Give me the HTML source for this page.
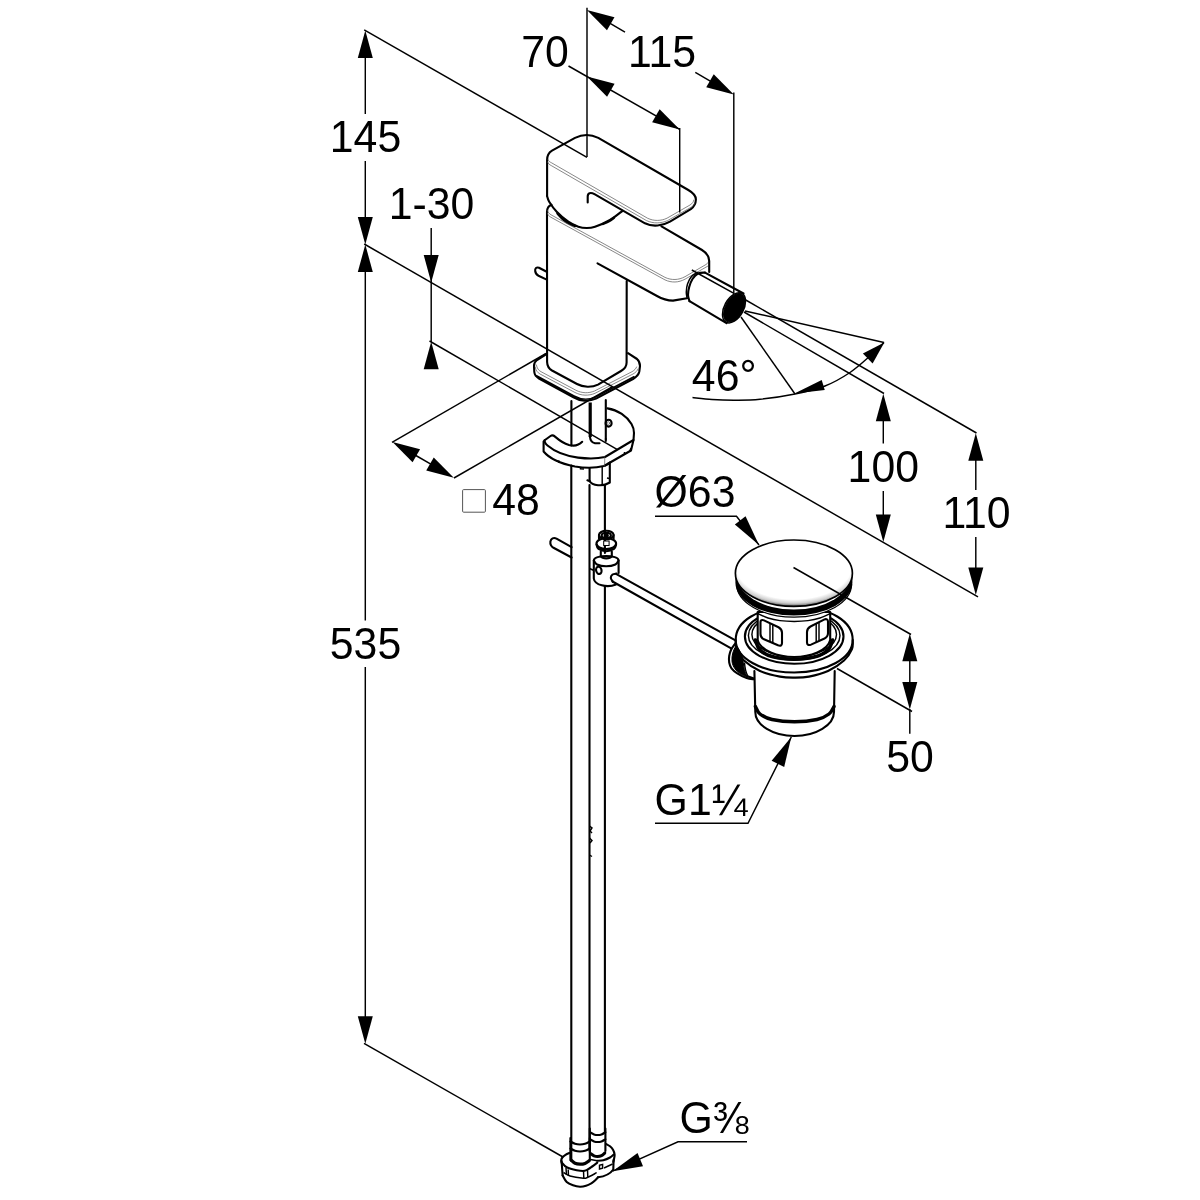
<!DOCTYPE html>
<html lang="en">
<head>
<meta charset="utf-8">
<title>Bidet mixer dimension drawing</title>
<style>
html,body{margin:0;padding:0;background:#fff;}
body{width:1200px;height:1200px;overflow:hidden;}
svg{display:block;will-change:transform;}
text{font-family:"Liberation Sans",sans-serif;fill:#000;}
.n{stroke:#000;stroke-width:1.45;fill:none;stroke-linecap:butt;}
.k{stroke:#000;stroke-width:2.1;fill:none;stroke-linecap:round;stroke-linejoin:round;}
.kw{stroke:#000;stroke-width:2.1;fill:#fff;stroke-linecap:round;stroke-linejoin:round;}
.w{stroke:none;fill:#fff;}
.g{stroke:#555;stroke-width:0.7;fill:none;stroke-linecap:round;}
.a{fill:#000;stroke:none;}
.b{fill:#000;stroke:#000;stroke-width:1;}
</style>
</head>
<body>
<svg width="1200" height="1200" viewBox="0 0 1200 1200">
<rect x="0" y="0" width="1200" height="1200" fill="#fff"/>
<g id="mixer">
<path class="k" d="M547.1,196 L547.1,160 C547.1,155.5 548.8,152.5 552,150.6 L575,137.9 C582.5,134.2 591,134.3 598.3,137.9 L688.3,190 C693.5,193 696,196 695.9,199.5 C695.8,203.5 694,206.8 690.8,209.2 L670,221.7 C663,225.8 652.5,227.2 645,223.3 L594.5,194.2 C590.5,192 587.7,193 587.7,196.5 L587.7,202.5"/>
<path class="k" d="M547.10,196.00 C547.45,196.95 547.60,199.08 549.20,201.70 C550.80,204.32 553.52,208.37 556.70,211.70 C559.88,215.03 564.70,219.20 568.30,221.70 C571.90,224.20 575.23,225.65 578.30,226.70 C581.37,227.75 583.92,228.00 586.70,228.00 C589.48,228.00 591.12,228.03 595.00,226.70 C598.88,225.37 605.42,222.65 610.00,220.00 C614.58,217.35 620.42,212.33 622.50,210.80"/>
<path class="k" d="M557.50,213.50 C558.42,214.47 561.08,217.63 563.00,219.30 C564.92,220.97 567.00,222.38 569.00,223.50 C571.00,224.62 574.00,225.58 575.00,226.00" style="stroke-width:2.5"/>
<path class="k" d="M603.00,224.00 C604.00,223.55 607.17,222.33 609.00,221.30 C610.83,220.27 613.17,218.38 614.00,217.80" style="stroke-width:2.4"/>
<path class="g" d="M548,159.5 C548.5,161 549.8,162 551.7,162.9 L647.5,218.2 C654,221.3 661,221 667,218.2 L690,205 C692.5,203.4 693.6,201.8 693.8,200"/>
<path class="g" d="M547.6,162 C548.2,163.7 549.5,164.7 551.3,165.6 L646.5,220.6 C653.5,223.8 661,223.5 667.5,220.6 L691,207.3 C693.3,205.8 694.4,204.5 694.8,203"/>
<path class="k" d="M551.5,204.8 C548.5,206 547,208.5 547,212 L547.1,362 C547.2,366 548.5,368.5 552,370.5 L577,384 C583,387.4 592,387.6 598,384.6 L621,371 C625,368.8 626.6,366.5 626.6,362.5 L626.7,281"/>
<path class="g" d="M547.6,210.5 C548,212.5 549,213.6 551,214.8 L665,277.4 C671.5,280.4 678.5,280.2 685,276.7 L706,264.5 C708,263.3 709,261.5 709.2,259.5"/>
<path class="g" d="M547.3,213 C547.8,215 549,216.2 551,217.3 L665,279.9 C671.5,282.9 678.5,282.7 685,279.2 L708,266"/>
<path class="k" d="M661.5,226.3 L702,250 C707,253 709.2,256 709.2,261 L709.2,272"/>
<path class="k" d="M597.5,263.3 L657,296 C662.5,299.2 667.5,300.6 673,300.6 L687,298.3"/>
<path class="k" d="M705,272.6 L743.5,293.5"/>
<path class="k" d="M689.5,301.2 L726.5,323.2"/>
<path class="n" d="M691.8,270 L733.5,293.2"/>
<path class="k" d="M705.00,272.60 C703.83,272.75 700.08,272.43 698.00,273.50 C695.92,274.57 693.97,276.75 692.50,279.00 C691.03,281.25 689.95,284.33 689.20,287.00 C688.45,289.67 687.95,292.63 688.00,295.00 C688.05,297.37 689.25,300.17 689.50,301.20"/>
<path class="k" d="M697.50,272.50 C696.50,273.17 693.17,274.58 691.50,276.50 C689.83,278.42 688.37,281.42 687.50,284.00 C686.63,286.58 686.38,289.75 686.30,292.00 C686.22,294.25 686.88,296.58 687.00,297.50" style="stroke-width:1.5"/>
<ellipse class="n" cx="734.00" cy="307.80" rx="16.40" ry="9.60" transform="rotate(-61.00 734.00 307.80)"/>
<ellipse class="b" cx="734.30" cy="307.80" rx="15.40" ry="8.90" transform="rotate(-61.00 734.30 307.80)"/>
<path class="k" d="M546.7,271.8 L539,267.8 C536.5,266.8 534.8,268.5 535.2,271 C535.5,273.5 536.5,274.8 538.5,275.8 L546.7,279.6"/>
<path class="k" d="M546.5,354 L537,360 C534.8,361.6 534,363.5 534,366 L534.3,372 C534.6,375 536,376.8 539,378.5 L573,397 C580,401.3 589,401.8 596,398.6 L633,379 C637,376.6 638.8,374.5 639.3,371.5 L640,366 C640,363 639,360.8 637,359 L628,353.2"/>
<path class="k" d="M536.5,375.8 L574,396 C580.5,399.6 589,400 595.5,397 L634,376.8" style="stroke-width:1.6"/>
<path class="g" d="M535.2,367 C535.8,370.5 537.5,372.6 540,374 L575,392.5 C581.5,395.8 588.5,396 595,393.3 L633,374 C635.8,372.4 637.4,370.8 638,369"/>
<path class="g" d="M536.4,365 C537,368.3 538.5,370.3 541,371.7 L576,390.3 C582,393.3 588.5,393.5 594.5,391 L632,371.7 C634.6,370.2 636,368.6 636.6,367"/>
</g>
<g id="tubes">
<line class="k" x1="571.40" y1="401.00" x2="571.40" y2="445.50"/>
<line x1="590.2" y1="402.5" x2="590.2" y2="437" stroke="#000" stroke-width="3.2"/>
<line class="k" x1="605.80" y1="400.00" x2="605.80" y2="439.00"/>
<path class="k" d="M590,437 C590.3,440.5 592,442.6 595,443.2 L599.5,443.2"/>
<path class="k" d="M605.8,439 L605.8,441"/>
<ellipse class="k" cx="608.60" cy="423.20" rx="3.00" ry="3.40"/>
<ellipse class="g" cx="608.30" cy="423.20" rx="1.20" ry="1.60"/>
<path class="k" d="M607.5,408.4 C618,410 627,416.5 631.5,424 C633.5,427.5 634.2,430 634,433 L633.5,440 L605,457 C598,458.6 588,458.8 578,457.6 C566,456 554,451 547.5,445.5 C545,443.3 544.2,441.5 545,440 L550.5,436 C552,435 553.5,435.3 555,436.6 C559.5,440.5 564,443.5 569,445 C574,446.3 579,445.2 582.2,441.8"/>
<path class="k" d="M543.6,441.5 L543.6,451.5 C549,458 560,463.5 575,466.5 C585,468.2 596,468 604,466 L631,450.5 L633.5,440"/>
<path class="n" d="M543.6,441.5 C543.8,440 544.5,439.5 545.5,439.5"/>
<path class="g" d="M604.8,457.2 L604.6,466"/>
<path class="n" d="M556.5,461 L559,461.2 L559,463 M580.5,467 L580.5,468.8 L584,469 M605,466 L608.5,464 L608.5,462.5 M622,455.5 L624.5,454 L624.5,452 M629.5,451.5 L631,448"/>
<path class="k" d="M589.6,468.5 L589.6,481 C592,485.8 603,487 609.8,482.5 L609.8,462.5"/>
<path class="n" d="M602.2,467 L602.2,485"/>
<path class="k" d="M587.4,480.3 L590,481.3"/>
<path class="n" d="M607,478 L609.5,478.5"/>
<line class="k" x1="571.30" y1="465.50" x2="571.30" y2="1161.00"/>
<line class="k" x1="589.50" y1="485.00" x2="589.50" y2="1150.00"/>
<line class="k" x1="604.90" y1="485.00" x2="604.90" y2="553.00"/>
<line class="k" x1="604.90" y1="586.00" x2="604.90" y2="1133.00"/>
<path class="n" d="M589.5,826 L592,828 L590,831 L592,833 M589.5,838 L592,840.5 L590,843 M589.5,855 L592,856.5"/>
<path class="k" d="M571.6,547.2 L556.5,538.6 C553.5,537.2 551,538.5 550.4,541.5 C550,544.5 551,546.3 553.5,547.8 L571.6,557.5"/>
</g>
<g id="clamp">
<ellipse class="k" cx="606.30" cy="535.00" rx="7.30" ry="4.20"/>
<ellipse class="k" cx="606.30" cy="535.40" rx="4.60" ry="2.50"/>
<ellipse class="k" cx="606.30" cy="535.40" rx="1.60" ry="0.90"/>
<path class="k" d="M599,535 L599,538.5 M613.6,535 L613.6,538.5"/>
<ellipse class="k" cx="606.30" cy="543.60" rx="9.80" ry="5.40"/>
<path class="k" d="M596.50,544.50 C596.83,545.25 596.87,547.88 598.50,549.00 C600.13,550.12 603.72,551.20 606.30,551.20 C608.88,551.20 612.37,550.12 614.00,549.00 C615.63,547.88 615.75,545.25 616.10,544.50"/>
<path class="n" d="M597.50,546.50 C598.08,546.92 599.53,548.45 601.00,549.00 C602.47,549.55 604.53,549.80 606.30,549.80 C608.07,549.80 610.13,549.55 611.60,549.00 C613.07,548.45 614.52,546.92 615.10,546.50"/>
<rect x="603.7" y="541" width="5.4" height="4.5" fill="#fff" stroke="#000" stroke-width="1"/>
<path class="k" d="M600.8,551.5 L600.8,556.5 C602.5,559 610,559 611.8,556.5 L611.8,551.5"/>
<path class="k" d="M593.8,560.5 C593.8,554.5 618.6,554.5 618.6,560.5 L618.6,573 M593.8,560.5 L593.8,578.5 C594.5,585 607,588.2 616,584.5"/>
<path class="k" d="M593.80,560.50 C594.33,561.17 594.93,563.53 597.00,564.50 C599.07,565.47 603.13,566.30 606.20,566.30 C609.27,566.30 613.33,565.47 615.40,564.50 C617.47,563.53 618.07,561.17 618.60,560.50"/>
<ellipse class="k" cx="598.80" cy="570.30" rx="2.70" ry="3.70" transform="rotate(-15.00 598.80 570.30)"/>
<path class="n" d="M589.5,568.5 L594,570.5"/>
<path class="k" d="M616,573.8 L735,640.2"/>
<path class="k" d="M612.5,581.5 L730.7,648.2"/>
<path class="k" d="M616.50,573.60 C615.83,573.75 613.45,573.77 612.50,574.50 C611.55,575.23 610.72,576.75 610.80,578.00 C610.88,579.25 612.63,581.33 613.00,582.00"/>
</g>
<defs><radialGradient id="capg" cx="0.5" cy="0.40" r="0.60" fx="0.5" fy="0.40"><stop offset="0" stop-color="#fff"/><stop offset="0.82" stop-color="#fff"/><stop offset="0.92" stop-color="#cfcfcf"/><stop offset="0.97" stop-color="#8a8a8a"/><stop offset="1" stop-color="#3a3a3a"/></radialGradient></defs>
<g id="drain">
<path class="kw" d="M735.7,640 C735.7,622 756,607 794.2,607 C832,607 852.7,622 852.7,640 C852.7,658 827,672.5 794.2,672.5 C761,672.5 735.7,658 735.7,640Z"/>
<path class="k" d="M735.70,640.00 C735.83,641.50 735.12,645.58 736.50,649.00 C737.88,652.42 740.08,656.83 744.00,660.50 C747.92,664.17 754.00,668.32 760.00,671.00 C766.00,673.68 774.30,675.50 780.00,676.60 C785.70,677.70 789.37,677.60 794.20,677.60 C799.03,677.60 803.37,677.70 809.00,676.60 C814.63,675.50 822.17,673.68 828.00,671.00 C833.83,668.32 840.00,664.17 844.00,660.50 C848.00,656.83 850.55,652.42 852.00,649.00 C853.45,645.58 852.58,641.50 852.70,640.00"/>
<ellipse class="k" cx="794.20" cy="636.50" rx="49.30" ry="27.30"/>
<ellipse class="n" cx="794.20" cy="635.50" rx="45.80" ry="24.60"/>
<ellipse class="n" cx="794.20" cy="634.50" rx="42.30" ry="22.00"/>
<path class="kw" d="M757.7,612 L757.7,640 C760,650.5 778,657 794.2,657 C810,657 828,650.5 830.2,640 L830.2,612Z"/>
<path class="k" d="M755.50,640.00 C756.25,641.67 757.08,647.20 760.00,650.00 C762.92,652.80 767.30,655.27 773.00,656.80 C778.70,658.33 787.20,659.20 794.20,659.20 C801.20,659.20 809.37,658.33 815.00,656.80 C820.63,655.27 825.08,652.80 828.00,650.00 C830.92,647.20 831.75,641.67 832.50,640.00" style="stroke-width:3.6"/>
<path class="k" d="M760.5,622.5 C760.3,620.3 762,619.4 764,620.4 L778.5,627.3 C781,628.6 782,630.3 782,632.8 L782,643 C782,645.5 780.5,646.3 778,645.3 L764,639.3 C761.5,638.2 760.5,636.5 760.5,634Z"/>
<path class="n" d="M770,623.5 L770,641.8 M772.8,625 L772.8,643"/>
<path class="k" d="M807,632 C807,629.5 808,627.8 810.5,626.5 L824,619.6 C826.5,618.5 828,619.3 828,621.8 L828,633 C828,635.5 827,637.3 824.5,638.5 L811,644.6 C808.5,645.6 807,644.8 807,642.5Z"/>
<path class="n" d="M816.2,623.8 L816.2,642 M819,622.4 L819,640.8"/>
<path class="n" d="M757.50,613.50 C759.25,614.25 764.25,616.82 768.00,618.00 C771.75,619.18 775.63,620.03 780.00,620.60 C784.37,621.17 789.53,621.40 794.20,621.40 C798.87,621.40 803.70,621.17 808.00,620.60 C812.30,620.03 816.25,619.18 820.00,618.00 C823.75,616.82 828.75,614.25 830.50,613.50"/>
<path class="w" d="M736.6,584 A57.5,33.2 0 0 0 851.6,584 L851.6,578 L736.6,578Z"/>
<path class="n" d="M736.6,584 A57.5,33.2 0 0 0 851.6,584" style="stroke-width:1.2"/>
<path class="a" d="M735.4,573 L735.4,582.4 A58.5,33.2 0 0 0 852.4,582.4 L852.4,573Z"/>
<ellipse class="w" cx="793.9" cy="573.9" rx="57.6" ry="35.7"/>
<ellipse cx="793.9" cy="573.2" rx="58.5" ry="33.2" fill="url(#capg)" stroke="#000" stroke-width="1.7"/>
<path class="k" d="M754.4,671 L755.3,712 C755.3,725 773,736 794.5,736 C816,736 834,725 834,712 L834.7,671"/>
<path class="k" d="M755.40,706.50 C756.17,707.75 757.23,711.83 760.00,714.00 C762.77,716.17 766.25,718.20 772.00,719.50 C777.75,720.80 787.00,721.80 794.50,721.80 C802.00,721.80 811.25,720.80 817.00,719.50 C822.75,718.20 826.17,716.17 829.00,714.00 C831.83,711.83 833.17,707.75 834.00,706.50" style="stroke-width:3.4"/>
<path class="k" d="M735.20,643.50 C734.53,644.50 732.20,647.42 731.20,649.50 C730.20,651.58 729.53,653.83 729.20,656.00 C728.87,658.17 728.82,660.45 729.20,662.50 C729.58,664.55 730.15,666.50 731.50,668.30 C732.85,670.10 734.77,671.68 737.30,673.30 C739.83,674.92 743.92,677.00 746.70,678.00 C749.48,679.00 752.78,679.08 754.00,679.30"/>
<path class="b" d="M736.3,645.5 C733,650 731.5,656 732,661.5 C732.8,667 736,671 741,674 L747.5,677.2 C744.5,672 743.6,667.5 743.3,662.5 C742.5,656.5 740.5,651 736.3,645.5Z"/>
<path class="n" d="M744.5,662.5 C744.8,668 745.6,672 747.8,676"/>
<path class="k" d="M747.5,676.2 L753.8,678.6"/>
</g>
<g id="nuts">
<path class="k" d="M570.4,1138 L570.4,1160 M589.8,1138 L589.8,1160"/>
<path class="k" d="M570.40,1141.50 C571.17,1141.88 573.40,1143.30 575.00,1143.80 C576.60,1144.30 578.33,1144.50 580.00,1144.50 C581.67,1144.50 583.37,1144.30 585.00,1143.80 C586.63,1143.30 589.00,1141.88 589.80,1141.50"/>
<path class="k" d="M570.40,1148.50 C571.17,1148.88 573.40,1150.30 575.00,1150.80 C576.60,1151.30 578.33,1151.50 580.00,1151.50 C581.67,1151.50 583.37,1151.30 585.00,1150.80 C586.63,1150.30 589.00,1148.88 589.80,1148.50"/>
<path class="k" d="M571.30,1160.20 C571.92,1160.70 573.55,1162.53 575.00,1163.20 C576.45,1163.87 578.33,1164.17 580.00,1164.20 C581.67,1164.23 583.45,1164.00 585.00,1163.40 C586.55,1162.80 588.58,1161.07 589.30,1160.60" style="stroke-width:3.2"/>
<path class="k" d="M589.8,1128.5 L589.8,1152 M605.4,1128.5 L605.4,1151"/>
<path class="k" d="M590.00,1132.30 C590.67,1132.65 592.73,1133.95 594.00,1134.40 C595.27,1134.85 596.35,1135.00 597.60,1135.00 C598.85,1135.00 600.20,1134.85 601.50,1134.40 C602.80,1133.95 604.75,1132.65 605.40,1132.30"/>
<path class="k" d="M590.00,1139.30 C590.67,1139.65 592.73,1140.95 594.00,1141.40 C595.27,1141.85 596.35,1142.00 597.60,1142.00 C598.85,1142.00 600.20,1141.85 601.50,1141.40 C602.80,1140.95 604.75,1139.65 605.40,1139.30"/>
<path class="k" d="M590.50,1153.50 C591.08,1153.88 592.82,1155.30 594.00,1155.80 C595.18,1156.30 596.35,1156.53 597.60,1156.50 C598.85,1156.47 600.30,1156.18 601.50,1155.60 C602.70,1155.02 604.25,1153.43 604.80,1153.00" style="stroke-width:3"/>
<path class="k" d="M570.30,1152.60 C569.50,1152.97 566.83,1153.98 565.50,1154.80 C564.17,1155.62 563.02,1156.55 562.30,1157.50 C561.58,1158.45 561.25,1159.42 561.20,1160.50 C561.15,1161.58 561.87,1163.42 562.00,1164.00"/>
<path class="k" d="M561.6,1161 L562.6,1175.5"/>
<path class="k" d="M562.60,1175.30 C563.28,1176.42 564.97,1180.33 566.70,1182.00 C568.43,1183.67 570.78,1184.52 573.00,1185.30 C575.22,1186.08 577.83,1186.62 580.00,1186.70 C582.17,1186.78 584.12,1186.37 586.00,1185.80 C587.88,1185.23 589.80,1184.18 591.30,1183.30 C592.80,1182.42 593.88,1181.50 595.00,1180.50 C596.12,1179.50 597.50,1177.83 598.00,1177.30"/>
<path class="k" d="M562.00,1162.70 C562.78,1163.47 564.25,1166.05 566.70,1167.30 C569.15,1168.55 573.70,1169.62 576.70,1170.20 C579.70,1170.78 582.48,1171.17 584.70,1170.80 C586.92,1170.43 587.90,1169.35 590.00,1168.00 C592.10,1166.65 596.08,1163.58 597.30,1162.70"/>
<path class="n" d="M563.50,1172.50 C564.58,1173.08 566.70,1175.05 570.00,1176.00 C573.30,1176.95 580.42,1177.95 583.30,1178.20 C586.18,1178.45 585.07,1178.42 587.30,1177.50 C589.53,1176.58 595.13,1173.50 596.70,1172.70"/>
<path class="n" d="M566,1168 L566.5,1175 M568.2,1169.5 L568.5,1176 M583.5,1171 L583.8,1178 M587.5,1169.8 L587.8,1177"/>
<path class="k" d="M606.00,1144.00 C606.67,1144.38 608.83,1145.33 610.00,1146.30 C611.17,1147.27 612.23,1148.43 613.00,1149.80 C613.77,1151.17 614.43,1152.97 614.60,1154.50 C614.77,1156.03 614.22,1157.75 614.00,1159.00 C613.78,1160.25 613.42,1161.50 613.30,1162.00"/>
<path class="k" d="M613.6,1160 L613.3,1169.5 C610.5,1173.5 604.5,1176.5 598,1177.3"/>
<path class="k" d="M597.30,1160.80 C598.30,1160.70 601.18,1160.75 603.30,1160.20 C605.42,1159.65 608.25,1158.45 610.00,1157.50 C611.75,1156.55 613.17,1155.00 613.80,1154.50"/>
<path class="n" d="M599.5,1165.2 L602.6,1164.4 L602.6,1168.2 L599.5,1169Z"/>
<path class="n" d="M604,1168 L612.6,1164"/>
<path class="n" d="M590.5,1159.5 L597.3,1160.8"/>
</g>
<g id="dims">
<line class="n" x1="365.30" y1="57.00" x2="365.30" y2="114.00"/>
<line class="n" x1="365.30" y1="161.00" x2="365.30" y2="219.00"/>
<line class="n" x1="365.30" y1="271.00" x2="365.30" y2="620.50"/>
<line class="n" x1="365.30" y1="667.00" x2="365.30" y2="1017.00"/>
<polygon class="a" points="365.30,30.40 372.80,57.90 357.80,57.90"/>
<polygon class="a" points="365.30,244.60 357.80,217.10 372.80,217.10"/>
<polygon class="a" points="365.30,244.60 372.80,272.10 357.80,272.10"/>
<polygon class="a" points="365.30,1043.75 357.80,1016.25 372.80,1016.25"/>
<line class="n" x1="364.20" y1="29.80" x2="587.00" y2="157.40"/>
<line class="n" x1="587.00" y1="7.70" x2="587.00" y2="157.00"/>
<line class="n" x1="679.70" y1="128.00" x2="679.70" y2="212.50"/>
<line class="n" x1="733.80" y1="92.50" x2="733.80" y2="294.00"/>
<line class="n" x1="568.50" y1="66.00" x2="679.70" y2="129.30"/>
<polygon class="a" points="587.00,76.40 614.57,83.65 607.07,96.65"/>
<polygon class="a" points="679.70,129.50 652.13,122.25 659.63,109.25"/>
<line class="n" x1="605.00" y1="20.40" x2="625.00" y2="32.20"/>
<line class="n" x1="695.30" y1="72.40" x2="715.00" y2="83.80"/>
<polygon class="a" points="586.90,9.90 614.47,17.15 606.97,30.15"/>
<polygon class="a" points="733.80,94.50 706.23,87.25 713.73,74.25"/>
<line class="n" x1="431.20" y1="228.00" x2="431.20" y2="342.00"/>
<polygon class="a" points="431.20,282.60 423.70,255.10 438.70,255.10"/>
<polygon class="a" points="431.20,341.75 438.70,369.25 423.70,369.25"/>
<line class="n" x1="364.20" y1="244.00" x2="978.00" y2="596.80"/>
<line class="n" x1="429.50" y1="341.00" x2="617.00" y2="449.30"/>
<line class="n" x1="392.00" y1="442.30" x2="546.00" y2="353.50"/>
<line class="n" x1="454.00" y1="478.00" x2="612.00" y2="387.00"/>
<line class="n" x1="415.00" y1="455.00" x2="433.00" y2="465.30"/>
<polygon class="a" points="392.50,442.00 420.07,449.25 412.57,462.25"/>
<polygon class="a" points="453.80,477.80 426.23,470.55 433.73,457.55"/>
<rect x="462.6" y="489.6" width="22.8" height="22.6" rx="1" fill="none" stroke="#555" stroke-width="1"/>
<path class="n" d="M692.50,397.50 C695.75,397.83 704.92,399.05 712.00,399.50 C719.08,399.95 727.00,400.23 735.00,400.20 C743.00,400.17 750.00,400.33 760.00,399.30 C770.00,398.27 784.17,396.22 795.00,394.00 C805.83,391.78 815.83,389.58 825.00,386.00 C834.17,382.42 842.50,377.50 850.00,372.50 C857.50,367.50 864.33,361.00 870.00,356.00 C875.67,351.00 881.67,344.75 884.00,342.50"/>
<line class="n" x1="741.00" y1="317.00" x2="795.00" y2="394.00"/>
<line class="n" x1="745.00" y1="311.00" x2="884.00" y2="342.50"/>
<line class="n" x1="744.00" y1="312.00" x2="884.00" y2="393.50"/>
<line class="n" x1="744.00" y1="299.00" x2="976.50" y2="433.00"/>
<polygon class="a" points="794.50,393.60 821.71,379.90 824.76,390.06"/>
<polygon class="a" points="884.30,342.60 872.62,363.61 862.89,353.54"/>
<line class="n" x1="883.30" y1="420.00" x2="883.30" y2="443.50"/>
<line class="n" x1="883.30" y1="491.00" x2="883.30" y2="516.00"/>
<polygon class="a" points="883.30,393.75 890.80,421.25 875.80,421.25"/>
<polygon class="a" points="883.30,542.00 875.80,514.50 890.80,514.50"/>
<line class="n" x1="975.80" y1="459.00" x2="975.80" y2="490.00"/>
<line class="n" x1="975.80" y1="537.00" x2="975.80" y2="568.00"/>
<polygon class="a" points="975.80,433.25 983.30,460.75 968.30,460.75"/>
<polygon class="a" points="975.80,595.00 968.30,567.50 983.30,567.50"/>
<path class="n" d="M655.00,516.30 L736.50,516.30 L759.00,545.00"/>
<polygon class="a" points="759.00,545.00 734.88,524.40 745.54,516.28"/>
<line class="n" x1="793.50" y1="567.50" x2="911.00" y2="634.50"/>
<line class="n" x1="837.00" y1="668.50" x2="912.00" y2="711.50"/>
<line class="n" x1="909.80" y1="659.00" x2="909.80" y2="684.00"/>
<line class="n" x1="909.80" y1="709.00" x2="909.80" y2="733.70"/>
<polygon class="a" points="909.80,633.75 917.30,661.25 902.30,661.25"/>
<polygon class="a" points="909.80,709.50 902.30,682.00 917.30,682.00"/>
<path class="n" d="M655.00,823.30 L748.00,823.30 L791.30,737.00"/>
<polygon class="a" points="791.30,737.00 784.18,766.97 771.65,760.72"/>
<path class="n" d="M747.00,1141.80 L678.00,1141.80 L612.60,1171.20"/>
<polygon class="a" points="612.60,1171.20 637.54,1153.07 643.02,1166.17"/>
<line class="n" x1="364.00" y1="1043.30" x2="563.00" y2="1157.00"/>
</g>
<g id="labels">
<text transform="translate(365.50 151.80) scale(1.000 1.045)" font-size="42.8" text-anchor="middle">145</text>
<text transform="translate(365.50 658.80) scale(1.000 1.045)" font-size="42.8" text-anchor="middle">535</text>
<text transform="translate(431.50 218.75) scale(1.000 1.045)" font-size="42.8" text-anchor="middle">1-30</text>
<text transform="translate(545.00 67.00) scale(1.000 1.045)" font-size="42.8" text-anchor="middle">70</text>
<text transform="translate(662.00 67.00) scale(1.000 1.045)" font-size="42.8" text-anchor="middle">115</text>
<text transform="translate(516.00 514.50) scale(1.000 1.045)" font-size="42.8" text-anchor="middle">48</text>
<text transform="translate(724.20 391.00) scale(1.000 1.045)" font-size="42.8" text-anchor="middle">46°</text>
<text transform="translate(883.30 481.50) scale(1.000 1.045)" font-size="42.8" text-anchor="middle">100</text>
<text transform="translate(976.50 528.00) scale(1.000 1.045)" font-size="42.8" text-anchor="middle">110</text>
<text transform="translate(695.00 507.10) scale(1.000 1.045)" font-size="42.8" text-anchor="middle">Ø63</text>
<text transform="translate(910.00 771.80) scale(1.000 1.045)" font-size="42.8" text-anchor="middle">50</text>
<text transform="translate(701.00 815.00) scale(1.000 1.045)" font-size="42.8" text-anchor="middle">G1¼</text>
<text transform="translate(714.00 1132.50) scale(1.000 1.045)" font-size="42.8" text-anchor="middle">G⅜</text>
</g>
</svg>
</body>
</html>
